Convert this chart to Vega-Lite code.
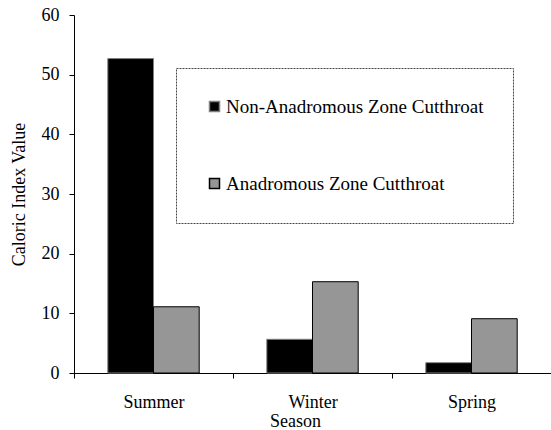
{
  "$schema": "https://vega.github.io/schema/vega-lite/v6.json",
  "width": 477,
  "height": 358,
  "autosize": "none",
  "padding": {"left": 74, "top": 15, "right": 0, "bottom": 57},
  "background": "white",
  "config": {"font": "Liberation Serif", "view": {"stroke": null}, "legend": {"strokeDash": [2, 1]}},
  "data": {"values": [
    {"season": "Summer", "series": "Non-Anadromous Zone Cutthroat", "value": 52.7},
    {"season": "Summer", "series": "Anadromous Zone Cutthroat", "value": 11.1},
    {"season": "Winter", "series": "Non-Anadromous Zone Cutthroat", "value": 5.65},
    {"season": "Winter", "series": "Anadromous Zone Cutthroat", "value": 15.3},
    {"season": "Spring", "series": "Non-Anadromous Zone Cutthroat", "value": 1.73},
    {"season": "Spring", "series": "Anadromous Zone Cutthroat", "value": 9.1}
  ]},
  "mark": {"type": "bar", "strokeWidth": 1},
  "encoding": {
    "x": {
      "field": "season", "type": "nominal", "sort": ["Summer", "Winter", "Spring"],
      "scale": {"paddingInner": 0, "paddingOuter": 0},
      "axis": {"title": "Season", "labelAngle": 0, "tickBand": "extent", "domainColor": "black", "tickColor": "black", "tickSize": 5,
        "labelFontSize": 18, "labelColor": "black", "labelPadding": 15, "titleFontSize": 18, "titleFontWeight": "normal", "titleColor": "black", "titleX": 221, "titlePadding": 1}
    },
    "xOffset": {
      "field": "series", "type": "nominal", "sort": ["Non-Anadromous Zone Cutthroat", "Anadromous Zone Cutthroat"],
      "scale": {"paddingInner": 0, "paddingOuter": 0.74}
    },
    "y": {
      "field": "value", "type": "quantitative",
      "scale": {"domain": [0, 60]},
      "axis": {"title": "Caloric Index Value", "values": [0, 10, 20, 30, 40, 50, 60], "grid": false, "domainColor": "black", "tickColor": "black", "tickSize": 5,
        "labelFontSize": 18, "labelColor": "black", "labelPadding": 10, "titleFontSize": 18, "titleFontWeight": "normal", "titleColor": "black", "titlePadding": 13}
    },
    "color": {
      "field": "series", "type": "nominal",
      "scale": {"domain": ["Non-Anadromous Zone Cutthroat", "Anadromous Zone Cutthroat"], "range": ["#000000", "#969696"]},
      "legend": {"title": null, "orient": "none", "legendX": 102, "legendY": 53, "padding": 29, "rowPadding": 57,
        "strokeColor": "#444444", "fillColor": "white",
        "symbolType": "square", "symbolSize": 100, "symbolStrokeColor": "#333333", "symbolStrokeWidth": 1.5, "symbolOpacity": 1,
        "labelFontSize": 19, "labelColor": "black", "labelOffset": 2, "labelLimit": 0}
    },
    "stroke": {
      "field": "series", "type": "nominal",
      "scale": {"domain": ["Non-Anadromous Zone Cutthroat", "Anadromous Zone Cutthroat"], "range": ["#808080", "#000000"]},
      "legend": null
    }
  }
}
